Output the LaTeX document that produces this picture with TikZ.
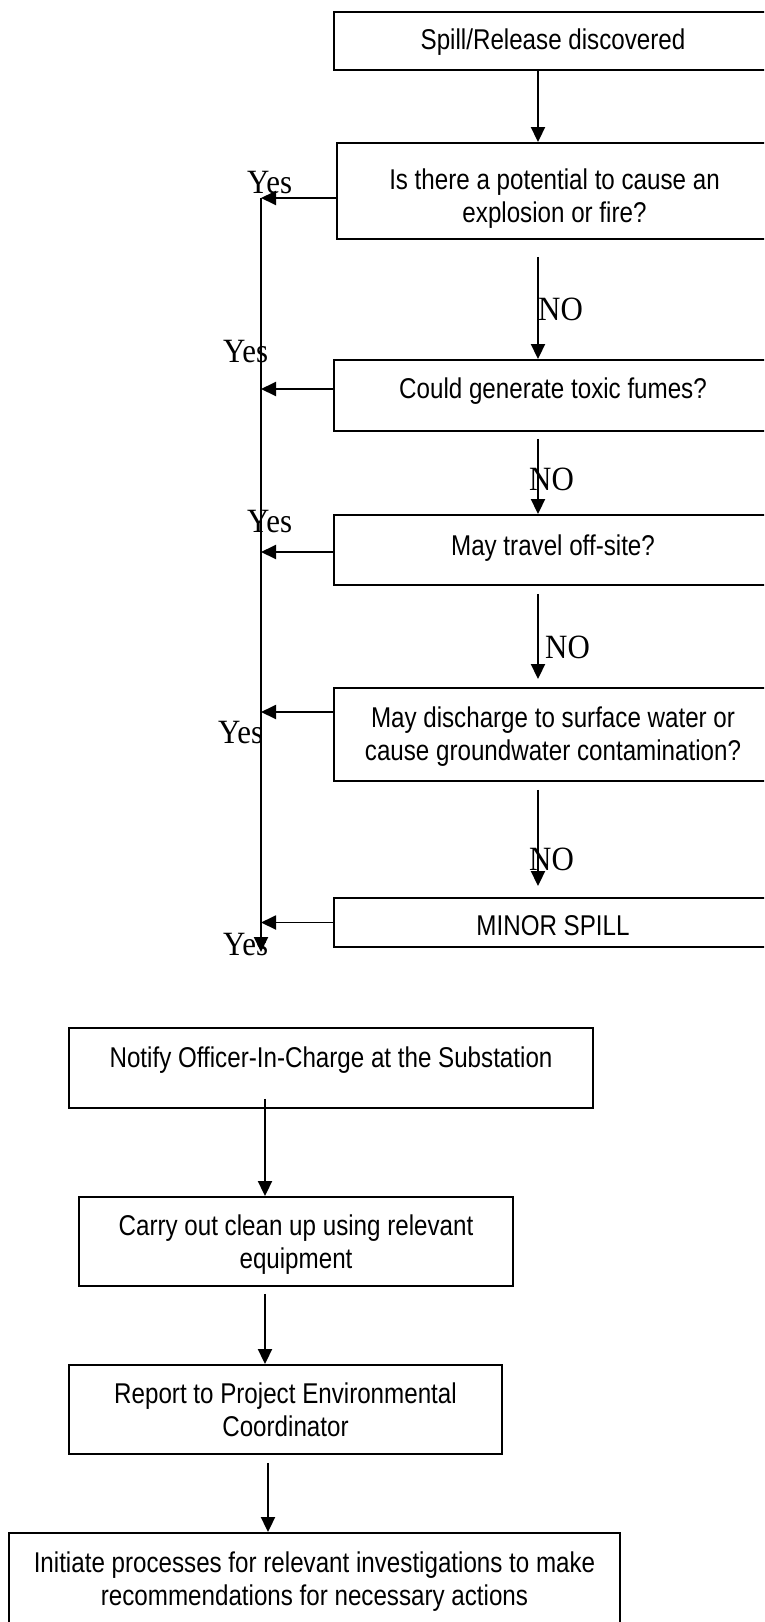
\documentclass[tikz,border=0pt]{standalone}
\usepackage{fontspec}
\setmainfont{Liberation Serif}[FakeStretch=0.91]
\newfontfamily\boxfont{Liberation Sans}[FakeStretch=0.845]
\usetikzlibrary{arrows.meta,positioning,calc}

\tikzset{flowbox/.style={draw, line width=1.9pt, align=center, inner sep=0pt,
           font=\boxfont\fontsize{28.6}{33}\selectfont},
         tb/.style 2 args={text height=#1, text depth=#2},
         flowarr/.style={line width=1.9pt, -{Triangle[length=15pt,width=14pt]}},
         ans/.style={anchor=base west, inner sep=0pt, font=\fontsize{34}{40}\selectfont}}

\begin{document}
\begin{tikzpicture}[x=1pt,y=-1pt]
    \useasboundingbox (0,0) rectangle (764,1622);
    \clip (0,0) rectangle (764,1622);
   % questions (right column, boxes run past the page edge)
       \node[flowbox, tb={22pt}{6pt}, minimum width=438pt, minimum height=58pt] (spill) at (553,41) {Spill/Release discovered};
       \node[flowbox, tb={68pt}{6pt}, minimum width=435pt, minimum height=96pt] (fire) at (554.5,191) {Is there a potential to cause an\\explosion or fire?};
       \node[flowbox, tb={21pt}{16pt}, minimum width=438pt, minimum height=71pt] (fumes) at (553,395.5) {Could generate toxic fumes?};
       \node[flowbox, tb={21pt}{11pt}, minimum width=438pt, minimum height=70pt] (offsite) at (553,550) {May travel off-site?};
       \node[flowbox, tb={57pt}{6pt}, minimum width=438pt, minimum height=93pt] (water) at (553,734.5) {May discharge to surface water or\\cause groundwater contamination?};
       \node[flowbox, tb={32pt}{6pt}, minimum width=438pt, minimum height=49pt] (minor) at (553,922.5) {MINOR SPILL};
   % actions
       \node[flowbox, tb={22pt}{24pt}, minimum width=524pt, minimum height=80pt] (notify) at (331,1068) {Notify Officer-In-Charge at the Substation};
       \node[flowbox, tb={59pt}{6pt}, minimum width=434pt, minimum height=89pt] (cleanup) at (296,1241.5) {Carry out clean up using relevant\\equipment};
       \node[flowbox, tb={60pt}{6pt}, minimum width=433pt, minimum height=89pt] (report) at (285.5,1409.5) {Report to Project Environmental\\Coordinator};
       \node[flowbox, tb={57pt}{6pt}, minimum width=611pt, minimum height=93pt] (initiate) at (314.5,1579.5) {Initiate processes for relevant investigations to make\\recommendations for necessary actions};

    \coordinate (col) at (538,0);
    \coordinate (rail) at (261,0);
    \coordinate (railend) at (261,952);
    \coordinate (col2) at (265,0);
    \coordinate (col3) at (268,0);

   % NO branch
    \draw[flowarr] (spill.south -| col) -- (fire.north -| col);
    \draw[flowarr, shorten <=17pt] (fire.south -| col) -- (fumes.north -| col);
    \draw[flowarr, shorten <=7pt] (fumes.south -| col) -- (offsite.north -| col);
    \draw[flowarr, shorten <=8pt, shorten >=8pt] (offsite.south -| col) -- (water.north -| col);
    \draw[flowarr, shorten <=8pt, shorten >=11pt] (water.south -| col) -- (minor.north -| col);
   % Yes branch
    \draw[flowarr] ([yshift=-7pt]fire.west) -- ([yshift=-7pt]fire.west -| rail);
    \draw[flowarr] ([yshift=6.5pt]fumes.west) -- ([yshift=6.5pt]fumes.west -| rail);
    \draw[flowarr] ([yshift=-2pt]offsite.west) -- ([yshift=-2pt]offsite.west -| rail);
    \draw[flowarr] ([yshift=22.5pt]water.west) -- ([yshift=22.5pt]water.west -| rail);
    \draw[flowarr] (minor.west) -- (minor.west -| rail);
    \draw[flowarr] ([yshift=-7pt]fire.west -| rail) -- (railend);
   % actions chain
    \draw[flowarr, shorten <=-10pt] (notify.south -| col2) -- (cleanup.north -| col2);
    \draw[flowarr, shorten <=7pt] (cleanup.south -| col2) -- (report.north -| col2);
    \draw[flowarr, shorten <=8pt] (report.south -| col3) -- (initiate.north -| col3);

        \foreach \x/\y/\n in {247/193/1, 223/362/2, 247/532/3, 218/743/4, 223/955/5}
    \node[ans] (yes\n) at (\x,\y) {Yes};
        \foreach \x/\y/\n in {538/320/1, 529/490/2, 545/658/3, 529/870/4}
    \node[ans] (no\n) at (\x,\y) {NO};
\end{tikzpicture}
\end{document}
